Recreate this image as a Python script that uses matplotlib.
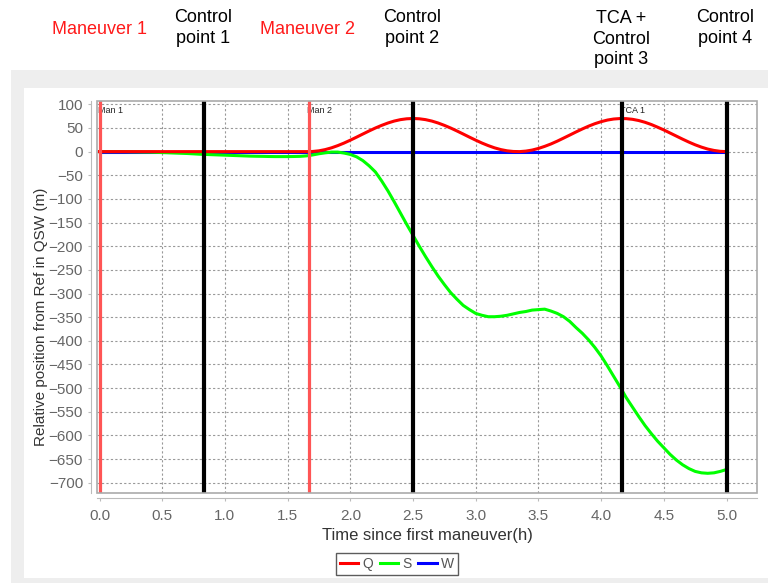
import matplotlib
matplotlib.use("Agg")
import matplotlib.pyplot as plt
from matplotlib.patches import Rectangle

plt.rcParams["font.family"] = ["Liberation Sans", "DejaVu Sans"]

# sample times (h)
hours = [0.0, 0.05, 0.1, 0.15, 0.2, 0.25, 0.3, 0.35, 0.4, 0.45,
         0.5, 0.55, 0.6, 0.65, 0.7, 0.75, 0.8, 0.85, 0.9, 0.95,
         1.0, 1.05, 1.1, 1.15, 1.2, 1.25, 1.3, 1.35, 1.4, 1.45,
         1.5, 1.55, 1.6, 1.65, 1.7, 1.75, 1.8, 1.85, 1.9, 1.95,
         2.0, 2.05, 2.1, 2.15, 2.2, 2.25, 2.3, 2.35, 2.4, 2.45,
         2.5, 2.55, 2.6, 2.65, 2.7, 2.75, 2.8, 2.85, 2.9, 2.95,
         3.0, 3.05, 3.1, 3.15, 3.2, 3.25, 3.3, 3.35, 3.4, 3.45,
         3.5, 3.55, 3.6, 3.65, 3.7, 3.75, 3.8, 3.85, 3.9, 3.95,
         4.0, 4.05, 4.1, 4.15, 4.2, 4.25, 4.3, 4.35, 4.4, 4.45,
         4.5, 4.55, 4.6, 4.65, 4.7, 4.75, 4.8, 4.85, 4.9, 4.95,
         5.0]

# relative position in QSW frame (m)
q_pos = [0, 0, 0, 0, 0, 0, 0, 0, 0, 0,
         0, 0, 0, 0, 0, 0, 0, 0, 0, 0,
         0, 0, 0, 0, 0, 0, 0, 0, 0, 0,
         0, 0, 0, 0, 0.3, 1.7, 4.3, 8, 12.7, 18.1,
         24.2, 30.6, 37.2, 43.7, 49.9, 55.5, 60.5, 64.6, 67.6, 69.4,
         70, 69.4, 67.6, 64.6, 60.5, 55.5, 49.9, 43.7, 37.2, 30.6,
         24.2, 18.1, 12.7, 8, 4.3, 1.7, 0.3, 0, 1.1, 3.3,
         6.7, 11.1, 16.2, 22.1, 28.5, 35, 41.6, 47.9, 53.8, 59,
         63.3, 66.7, 68.9, 69.9, 69.7, 68.3, 65.7, 62, 57.3, 51.7,
         45.8, 39.3, 32.8, 26.3, 20.1, 14.4, 9.5, 5.4, 2.5, 0.6,
         0]
s_pos = [0, 0, 0, 0, 0, -0.3, -0.5, -0.8, -1, -1.5,
         -2, -2.5, -3, -3.5, -4, -4.7, -5.5, -6, -6.5, -7,
         -7.5, -8, -8.5, -9, -9.5, -9.8, -10, -10.3, -10.5, -10.5,
         -10.5, -10.3, -10, -9, -7, -4.5, -2.5, -1, -1, -3,
         -6, -11, -19, -30, -43, -62, -83, -106, -130, -154,
         -177, -200, -222, -243, -263, -281, -298, -312, -325, -334,
         -342, -346, -349, -349, -348, -346, -343, -340, -338, -335,
         -334, -333, -337, -342, -349, -359, -372, -384, -398, -414,
         -432, -453, -475, -497, -520, -540, -560, -579, -596, -612,
         -626, -640, -652, -662, -670, -676, -679, -680, -679, -676,
         -672]
w_pos = [0] * len(hours)

# event times (h)
maneuvers = [0.0, 1.667]
maneuver_tags = ["Man 1", "Man 2"]
control_points = [0.833, 2.5, 4.167, 5.0]
tca_time = 4.167

header_labels = ["Maneuver 1", "Control\npoint 1", "Maneuver 2", "Control\npoint 2",
                 "TCA +\nControl\npoint 3", "Control\npoint 4"]
header_colors = ["#ff1a1a", "black", "#ff1a1a", "black", "black", "black"]
header_x = [100, 203, 308, 412, 621, 725]
header_y = [29, 28, 29, 28, 39, 28]

y_ticks = list(range(100, -701, -50))
x_ticks = [0.0, 0.5, 1.0, 1.5, 2.0, 2.5, 3.0, 3.5, 4.0, 4.5, 5.0]

W, H = 768, 583
fig = plt.figure(figsize=(W / 100, H / 100), dpi=100)

# panel backgrounds
fig.patches.append(Rectangle((11 / W, 0), 1, 1 - 70 / H, transform=fig.transFigure,
                             facecolor="#eeeeee", edgecolor="none", zorder=-2))
fig.patches.append(Rectangle((24 / W, 5 / H), 1, 1 - 88 / H - 5 / H, transform=fig.transFigure,
                             facecolor="white", edgecolor="none", zorder=-1))

for label, color, x, y in zip(header_labels, header_colors, header_x, header_y):
    fig.text(x / W, 1 - y / H, label, color=color, fontsize=13,
             ha="center", va="center", linespacing=1.25)

ax = fig.add_axes([97 / W, 1 - 492.7 / H, (757 - 97) / W, (492.7 - 101) / H])
ax.set_facecolor("white")

ax.plot(hours, w_pos, color="#0000ff", lw=2.2, label="W", zorder=3)
ax.plot(hours, s_pos, color="#00ff00", lw=2.2, label="S", zorder=4)
ax.plot(hours, q_pos, color="#ff0000", lw=2.2, label="Q", zorder=5)

for t, tag in zip(maneuvers, maneuver_tags):
    ax.axvline(t, color="#ff5555", lw=2.3, zorder=7)
    ax.text(t - 0.012, 86, tag, fontsize=6.5, ha="left", va="center", color="#222222", zorder=6)
for t in control_points:
    ax.axvline(t, color="black", lw=3, zorder=7)
ax.text(tca_time - 0.02, 86, "TCA 1", fontsize=6.5, ha="left", va="center", color="#222222", zorder=6)

ax.set_xlim(-0.02, 5.243)
ax.set_ylim(-721, 107)
ax.set_xticks(x_ticks)
ax.set_xticklabels([f"{v:.1f}" for v in x_ticks])
ax.set_yticks(y_ticks)

ax.grid(True, color="#999999", linestyle=(0, (2, 2)), lw=0.8)
ax.set_axisbelow(True)

for side in ["top", "right"]:
    ax.spines[side].set_visible(False)
for side in ["left", "bottom"]:
    ax.spines[side].set_position(("outward", 4))
    ax.spines[side].set_color("#bbbbbb")
ax.add_patch(Rectangle((0, 0), 1, 1, transform=ax.transAxes, fill=False,
                       edgecolor="#aaaaaa", lw=1.2, zorder=8, clip_on=False))

ax.tick_params(axis="both", colors="#bbbbbb", labelcolor="#666666", length=2.5,
               labelsize=11, width=0.8)
ax.tick_params(axis="x", pad=5)

ax.set_xlabel("Time since first maneuver(h)", fontsize=12, color="#333333", labelpad=4)
ax.set_ylabel("Relative position from Ref in QSW (m)", fontsize=11, color="#333333")
ax.yaxis.set_label_coords(-0.074, 0.449)

handles, labels = ax.get_legend_handles_labels()
order = [2, 1, 0]
leg = ax.legend([handles[i] for i in order], [labels[i] for i in order],
                loc="center", bbox_to_anchor=(397 / W, 1 - 564 / H),
                bbox_transform=fig.transFigure, ncol=3, fontsize=10,
                frameon=True, fancybox=False, edgecolor="#333333",
                borderpad=0.3, handlelength=1.3, handletextpad=0.3,
                columnspacing=0.5, labelcolor="#555555")
leg.get_frame().set_linewidth(1.0)

fig.savefig("out.png", dpi=100)
